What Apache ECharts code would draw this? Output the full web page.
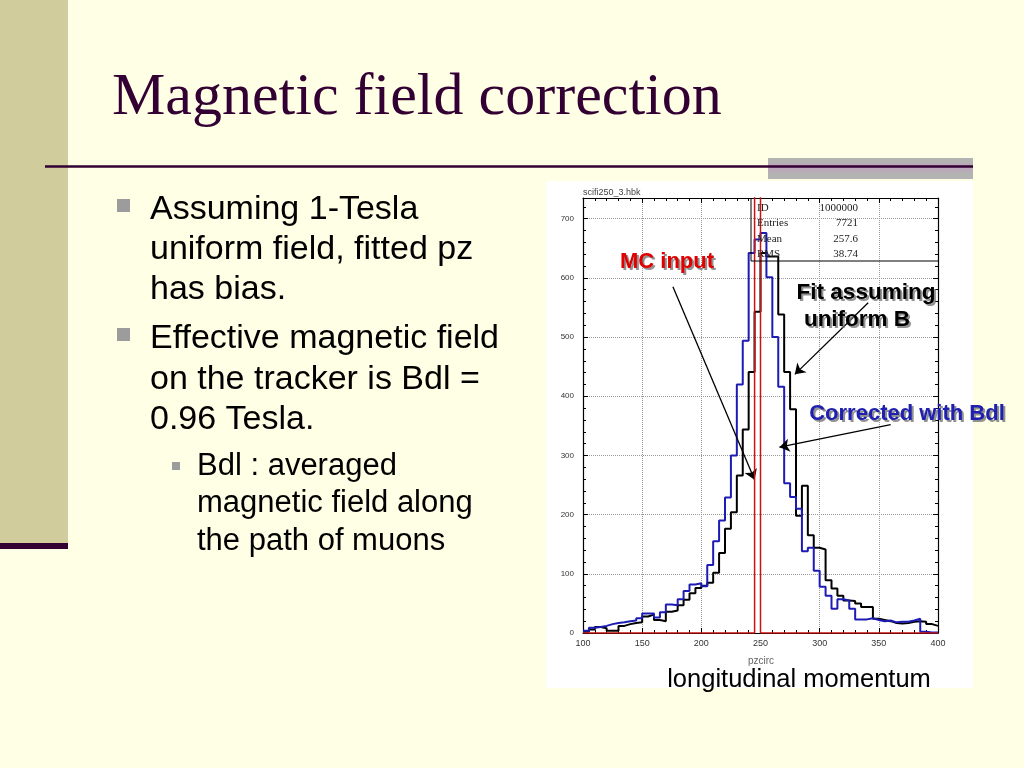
<!DOCTYPE html>
<html>
<head>
<meta charset="utf-8">
<script src="https://cdn.jsdelivr.net/npm/echarts@6/dist/echarts.min.js"></script>
<style>
html,body{margin:0;padding:0;background:#FFFFE6;}
#c{width:1024px;height:768px;}
</style>
</head>
<body>
<div id="c"></div>
<script>
// ---- data ----
const binLow = [100,105,110,115,120,125,130,135,140,145,150,155,160,165,170,175,180,185,190,195,
                200,205,210,215,220,225,230,235,240,245,250,255,260,265,270,275,280,285,290,295,
                300,305,310,315,320,325,330,335,340,345,350,355,360,365,370,375,380,385,390,395];
const histUpper = 400;
// "Corrected with Bdl" (blue)
const correctedBdl = [4,9,10,12,15,17,18,20,21,25,
                      33,33,26,35,48,47,57,71,82,84,
                      79,115,155,190,229,300,420,494,642,665,
                      676,601,500,416,253,230,210,138,144,105,
                      78,63,41,57,55,41,23,23,25,22,
                      20,21,18,19,19,21,24,2,1,1];
// "Fit assuming uniform B" (black)
const uniformB = [2,6,10,8,4,4,12,15,17,18,
                  28,31,22,20,36,38,47,56,67,76,
                  80,85,102,135,176,204,266,344,441,543,
                  642,636,636,538,441,378,198,249,165,144,
                  141,89,75,63,55,54,50,44,44,24,
                  22,20,17,16,17,19,20,19,15,12];
// "MC input" (red)
const mcInput = [0,0,0,0,0,0,0,0,0,0,
                 0,0,0,0,0,0,0,0,0,0,
                 0,0,0,0,0,0,0,0,0,7721,
                 0,0,0,0,0,0,0,0,0,0,
                 0,0,0,0,0,0,0,0,0,0,
                 0,0,0,0,0,0,0,0,0,0];
const xRange = [100, 400];
const yRange = [0, 735];
const xTickStep = 50;
const yTickStep = 100;
const statsLabels = ['ID', 'Entries', 'Mean', 'RMS'];
const statsValues = ['1000000', '7721', '257.6', '38.74'];
// annotation arrows in data coordinates [from, to]
const arrowMC = [[176, 585], [245, 259]];
const arrowUniform = [[341, 558], [279, 437]];
const arrowCorrected = [[360, 352], [266, 314]];

const bulletMain1 = ['Assuming 1-Tesla', 'uniform field, fitted pz', 'has bias.'];
const bulletMain2 = ['Effective magnetic field', 'on the tracker is Bdl =', '0.96 Tesla.'];
const bulletSub = ['Bdl : averaged', 'magnetic field along', 'the path of muons'];

function steps(vals) {
  const pts = binLow.map((x, i) => [x, vals[i]]);
  pts.push([histUpper, vals[vals.length - 1]]);
  return pts;
}

const chart = echarts.init(document.getElementById('c'), null, {renderer: 'canvas'});

const SANS = '"Liberation Sans", Arial, sans-serif';
const SERIF = '"Liberation Serif", "Times New Roman", serif';

function txt(text, x, y, font, fill, align, extra) {
  return Object.assign({
    type: 'text', silent: true,
    style: {text: text, x: x, y: y, font: font, fill: fill,
            textAlign: align || 'left', align: align || 'left',
            textVerticalAlign: 'middle', verticalAlign: 'middle'}
  }, extra || {});
}
function shadowTxt(text, x, y, font, fill) {
  return [
    txt(text, x + 2, y + 2, font, 'rgba(110,110,110,0.75)', 'center', {z: 50}),
    txt(text, x, y, font, fill, 'center', {z: 51})
  ];
}

const graphics = [];
// slide decoration
graphics.push({type: 'rect', z: -20, silent: true, shape: {x: 0, y: 0, width: 68, height: 543}, style: {fill: '#D0CC9C'}});
graphics.push({type: 'rect', z: -19, silent: true, shape: {x: 0, y: 543, width: 68, height: 6}, style: {fill: '#330033'}});
graphics.push({type: 'rect', z: -19, silent: true, shape: {x: 768, y: 158, width: 205, height: 21}, style: {fill: '#B3B3B1'}});
graphics.push({type: 'rect', z: -19, silent: true, shape: {x: 768, y: 163, width: 205, height: 9}, style: {fill: '#B9A9B9'}});
graphics.push({type: 'line', z: -18, silent: true, shape: {x1: 45, y1: 166.5, x2: 973, y2: 166.5}, style: {stroke: '#330033', lineWidth: 2.5}});
graphics.push({type: 'rect', z: -15, silent: true, shape: {x: 546, y: 181, width: 427, height: 507}, style: {fill: '#FFFFFF'}});
// title
graphics.push(txt('Magnetic field correction', 112, 98, '60px ' + SERIF, '#330033', 'left'));
// bullets
graphics.push({type: 'rect', silent: true, shape: {x: 117, y: 199, width: 13, height: 13}, style: {fill: '#9C9C9C'}});
graphics.push({type: 'rect', silent: true, shape: {x: 117, y: 328, width: 13, height: 13}, style: {fill: '#9C9C9C'}});
graphics.push({type: 'rect', silent: true, shape: {x: 172, y: 462, width: 8, height: 8}, style: {fill: '#9C9C9C'}});
const mainY1 = [210, 250, 290], mainY2 = [339, 380, 420], subY = [466, 503, 541];
bulletMain1.forEach((t, i) => graphics.push(txt(t, 150, mainY1[i], '34px ' + SANS, '#000', 'left')));
bulletMain2.forEach((t, i) => graphics.push(txt(t, 150, mainY2[i], '34px ' + SANS, '#000', 'left')));
bulletSub.forEach((t, i) => graphics.push(txt(t, 197, subY[i], '31px ' + SANS, '#000', 'left')));
// plot captions
graphics.push(txt('scifi250_3.hbk', 583, 193, '9px ' + SANS, '#444', 'left'));
graphics.push(txt('pzcirc', 761, 661, '10px ' + SANS, '#666', 'center'));
graphics.push(txt('longitudinal momentum', 799, 680, '25.5px ' + SANS, '#000', 'center'));
// stats box
graphics.push({type: 'line', z: 30, silent: true, shape: {x1: 751, y1: 198, x2: 751, y2: 261}, style: {stroke: '#000', lineWidth: 1}});
graphics.push({type: 'line', z: 30, silent: true, shape: {x1: 751, y1: 261, x2: 938, y2: 261}, style: {stroke: '#000', lineWidth: 1}});
const statY = [208, 223, 239, 254];
statsLabels.forEach((t, i) => graphics.push(txt(t, 757, statY[i], '11px ' + SERIF, '#222', 'left', {z: 30})));
statsValues.forEach((t, i) => graphics.push(txt(t, 858, statY[i], '11px ' + SERIF, '#222', 'right', {z: 30})));
// annotations
graphics.push(...shadowTxt('MC input', 667, 262, 'bold 22px ' + SANS, '#E00000'));
graphics.push(...shadowTxt('Fit assuming', 866, 293, 'bold 22.5px ' + SANS, '#000000'));
graphics.push(...shadowTxt('uniform B', 857, 320, 'bold 22.5px ' + SANS, '#000000'));
graphics.push(...shadowTxt('Corrected with Bdl', 907, 414, 'bold 22px ' + SANS, '#2020B0'));

const tickStyle = {color: '#000', width: 1};
function xAx(pos, showLabel) {
  return {
    type: 'value', position: pos, min: xRange[0], max: xRange[1], interval: xTickStep,
    axisLine: {show: true, onZero: false, lineStyle: {color: '#000', width: 1.2}},
    axisTick: {show: true, inside: true, length: 5, lineStyle: tickStyle},
    minorTick: {show: true, splitNumber: 5, length: 3, lineStyle: tickStyle},
    axisLabel: {show: showLabel, fontSize: 9, color: '#333', fontFamily: SANS, margin: 6},
    splitLine: {show: showLabel, lineStyle: {type: 'dotted', color: '#999', width: 1}}
  };
}
function yAx(pos, showLabel) {
  return {
    type: 'value', position: pos, min: yRange[0], max: yRange[1], interval: yTickStep,
    axisLine: {show: true, onZero: false, lineStyle: {color: '#000', width: 1.2}},
    axisTick: {show: true, inside: true, length: 5, lineStyle: tickStyle},
    minorTick: {show: true, splitNumber: 5, length: 3, lineStyle: tickStyle},
    axisLabel: {show: showLabel, fontSize: 8, color: '#333', fontFamily: SANS, margin: 9, showMaxLabel: false},
    splitLine: {show: showLabel, lineStyle: {type: 'dotted', color: '#999', width: 1}}
  };
}

const arrowLine = (a) => [{coord: a[0]}, {coord: a[1]}];

chart.setOption({
  backgroundColor: '#FFFFE6',
  animation: false,
  grid: {left: 583, top: 198, width: 355, height: 435, show: false, containLabel: false},
  xAxis: [xAx('bottom', true), xAx('top', false)],
  yAxis: [yAx('left', true), yAx('right', false)],
  graphic: graphics,
  series: [
    {
      name: 'Fit assuming uniform B', type: 'line', step: 'end', data: steps(uniformB),
      showSymbol: false, symbol: 'none', clip: true, z: 3,
      lineStyle: {color: '#000000', width: 2},
      markLine: {
        silent: true, animation: false, symbol: ['none', 'arrow'], symbolSize: 10,
        label: {show: false}, lineStyle: {color: '#000', width: 1.3, type: 'solid'},
        emphasis: {disabled: true},
        data: [arrowLine(arrowMC), arrowLine(arrowUniform), arrowLine(arrowCorrected)]
      }
    },
    {
      name: 'Corrected with Bdl', type: 'line', step: 'end', data: steps(correctedBdl),
      showSymbol: false, symbol: 'none', clip: true, z: 4,
      lineStyle: {color: '#1C1CB4', width: 2}
    },
    {
      name: 'MC input', type: 'line', step: 'end', data: steps(mcInput),
      showSymbol: false, symbol: 'none', clip: true, z: 5,
      lineStyle: {color: '#CC1111', width: 1.5}
    }
  ]
});
</script>
</body>
</html>
